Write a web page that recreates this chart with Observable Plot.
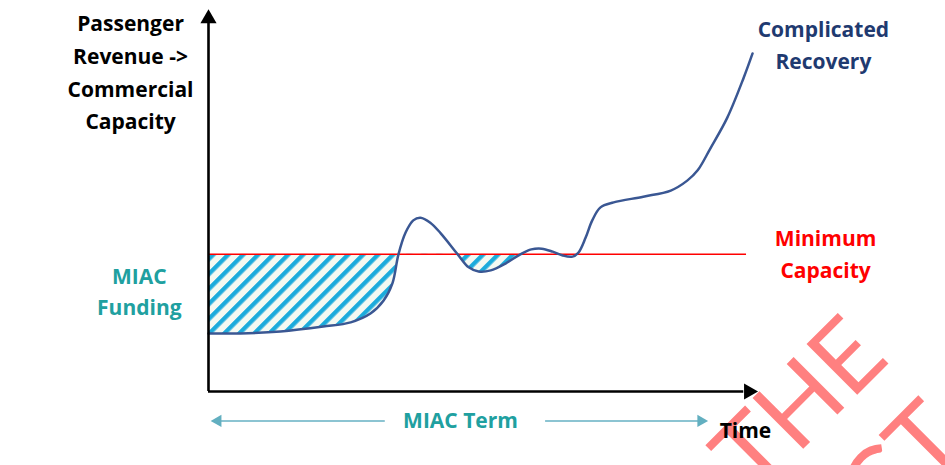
<!DOCTYPE html>
<html><head><meta charset="utf-8">
<script src="https://cdn.jsdelivr.net/npm/d3@7"></script>
<script src="https://cdn.jsdelivr.net/npm/@observablehq/plot@0.6"></script>
<style>
body{margin:0;background:#fff;}
#wrap{position:relative;width:945px;height:465px;overflow:hidden;}
#wrap svg{position:absolute;left:0;top:0;}
</style></head><body><div id="wrap"></div>
<script>
// Time (0–100) and passenger revenue / commercial capacity (0–100)
const timeX = [0, 5.8, 13.1, 20.9, 25.9, 29.5, 31.9, 33.5, 34.6, 35.9, 37.3, 38.6, 40.4, 42.3, 45.4, 47.4, 49.2, 51.4, 54.1, 56.8, 58.8, 60.7, 62.7, 64.5, 66.3, 67.4, 68.7, 69.9, 71.4, 73.8, 79.2, 84.2, 87.2, 89.1, 91.4, 94.5, 97.5, 99.1];
const revenueY = [15.2, 15.2, 15.7, 17.0, 18.1, 20.4, 23.8, 28.3, 35.9, 41.6, 44.8, 45.5, 44.2, 41.4, 35.9, 32.5, 31.4, 31.7, 33.5, 35.9, 37.2, 37.4, 36.6, 35.6, 35.3, 36.4, 40.3, 44.8, 48.2, 49.5, 51.0, 52.6, 55.2, 57.9, 63.6, 71.7, 82.2, 88.5];
const minimumCapacity = 35.9;
const miacHatchEnd = 56.8;          // MIAC funding shading stops here
const minimumLineEnd = 98.0;
const miacTermSpan = [0.4, 91.0];   // left and right arrow tips
const miacTermGap = [32.2, 61.4];   // gap for the label
const miacTermY = -7.7;

const axisTitle = "Passenger\nRevenue ->\nCommercial\nCapacity";
const recoveryLabel = "Complicated\nRecovery";
const minimumLabel = "Minimum\nCapacity";
const fundingLabel = "MIAC\nFunding";
const termLabel = "MIAC Term";
const timeLabel = "Time";

const curve = timeX.map((t, i) => ({t, v: revenueY[i]}));
const hatchData = curve.filter(d => d.t <= miacHatchEnd);

const font = "'Open Sans', Lato, sans-serif";
const plot = Plot.plot({
  width: 945, height: 465,
  marginLeft: 208, marginRight: 188, marginTop: 9, marginBottom: 74,
  x: {domain: [0, 100], axis: null},
  y: {domain: [0, 100], axis: null},
  style: {background: "transparent", fontFamily: font, overflow: "visible"},
  marks: [
    Plot.areaY(hatchData, {x: "t", y1: minimumCapacity, y2: "v", curve: "catmull-rom", fill: "url(#miacHatch)"}),
    Plot.areaY([0, miacHatchEnd], {x: d => d, y1: minimumCapacity, y2: 100, fill: "white"}),
    Plot.ruleY([minimumCapacity], {x1: 0, x2: minimumLineEnd, stroke: "#ff0000", strokeWidth: 1.5}),
    Plot.line(curve, {x: "t", y: "v", curve: "catmull-rom", stroke: "#3a5793", strokeWidth: 2.5}),
    // axes
    Plot.ruleX([0], {y1: 0, y2: 96.5, stroke: "black", strokeWidth: 2.6}),
    Plot.ruleY([0], {x1: 0, x2: 97.5, stroke: "black", strokeWidth: 2.6}),
    Plot.dot([0], {x: 0, y: 97.6, symbol: "triangle", r: 6, fill: "black", stroke: null}),
    Plot.dot([0], {x: 98.4, y: 0, symbol: "triangle", r: 6, rotate: 90, fill: "black", stroke: null}),
    // MIAC term arrow
    Plot.ruleY([miacTermY], {x1: miacTermSpan[0] + 1.3, x2: miacTermGap[0], stroke: "#8cc4d2", strokeWidth: 2}),
    Plot.ruleY([miacTermY], {x1: miacTermGap[1], x2: miacTermSpan[1] - 1.3, stroke: "#8cc4d2", strokeWidth: 2}),
    Plot.dot([0], {x: miacTermSpan[0] + 1.3, y: miacTermY, symbol: "triangle", r: 4.6, rotate: -90, fill: "#62afc0", stroke: null}),
    Plot.dot([0], {x: miacTermSpan[1] - 1.3, y: miacTermY, symbol: "triangle", r: 4.6, rotate: 90, fill: "#62afc0", stroke: null}),
    // labels
    Plot.text([axisTitle], {x: -14.2, y: 84.2, text: d => d, fill: "black", fontSize: 21, fontWeight: "bold", lineHeight: 1.55, textAnchor: "middle"}),
    Plot.text([recoveryLabel], {x: 112.0, y: 91.2, text: d => d, fill: "#1f3a70", fontSize: 21, fontWeight: "bold", lineHeight: 1.52, textAnchor: "middle"}),
    Plot.text([minimumLabel], {x: 112.4, y: 36.6, text: d => d, fill: "#ff0000", fontSize: 21, fontWeight: "bold", lineHeight: 1.55, textAnchor: "middle"}),
    Plot.text([fundingLabel], {x: -12.6, y: 26.7, text: d => d, fill: "#20a0a0", fontSize: 21, fontWeight: "bold", lineHeight: 1.5, textAnchor: "middle"}),
    Plot.text([termLabel], {x: 45.9, y: miacTermY, text: d => d, fill: "#20a0a0", fontSize: 21, fontWeight: "bold", textAnchor: "middle", letterSpacing: "-0.5px"}),
    Plot.text([timeLabel], {x: 97.8, y: -10.5, text: d => d, fill: "black", fontSize: 21, fontWeight: "bold", textAnchor: "middle"})
  ]
});

// hatch pattern for MIAC funding area
const defs = d3.select(plot).insert("defs", ":first-child");
const pat = defs.append("pattern").attr("id", "miacHatch").attr("patternUnits", "userSpaceOnUse")
  .attr("width", 10.6).attr("height", 10.6).attr("patternTransform", "rotate(45)");
pat.append("rect").attr("width", 10.6).attr("height", 10.6).attr("fill", "#f4f9f2");
pat.append("rect").attr("x", 0).attr("width", 4.4).attr("height", 10.6).attr("fill", "#1cabdc");

// watermark (behind chart)
const wrap = d3.select("#wrap");
const wm = wrap.append("svg").attr("width", 945).attr("height", 465);
wm.append("text").attr("x", 755).attr("y", 497).attr("transform", "rotate(-45 755 497)")
  .attr("font-family", "Lato, sans-serif").attr("font-size", 100).attr("fill", "#ff8080").text("THE");
wm.append("text").attr("x", 970).attr("y", 445).attr("transform", "rotate(-45 970 445)")
  .attr("text-anchor", "end").attr("font-family", "Lato, sans-serif").attr("font-size", 100).attr("fill", "#ff8080").text("PROJECT");
wrap.node().appendChild(plot);
</script>
</body></html>
